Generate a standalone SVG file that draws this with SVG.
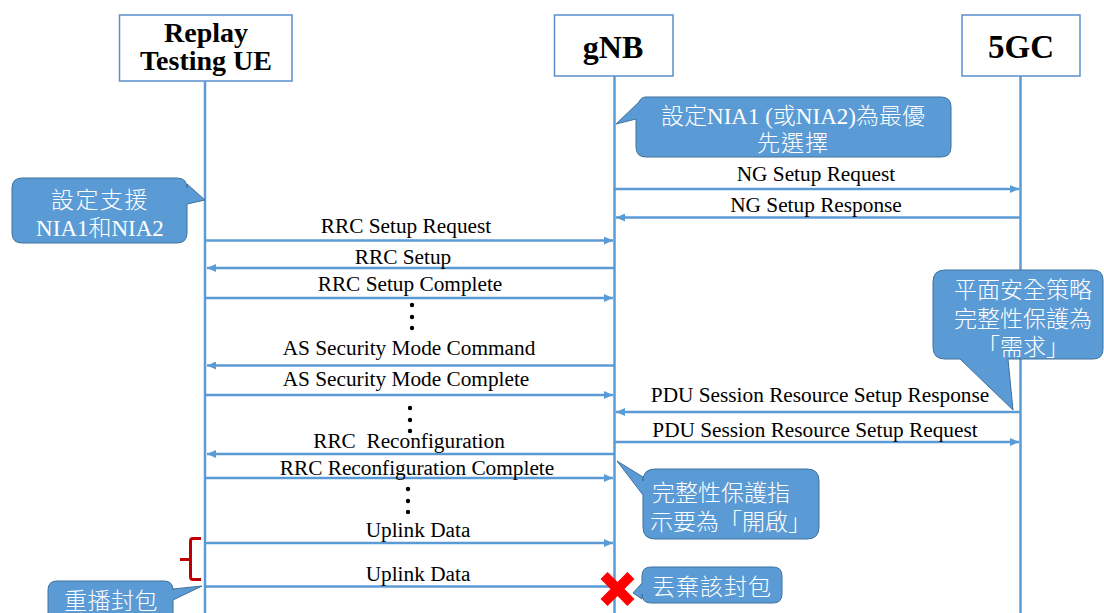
<svg xmlns="http://www.w3.org/2000/svg" width="1104" height="613" viewBox="0 0 1104 613">
<style>
.hdr{fill:#fff;stroke:#5B8FCB;stroke-width:1.5}
.ht{font-family:"Liberation Serif",serif;font-weight:bold;fill:#000;text-anchor:middle}
.life{stroke:#5B9BD5;stroke-width:2.5;fill:none}
.msg{stroke:#5B9BD5;stroke-width:2.5;fill:none}
.lbl{font-family:"Liberation Serif",serif;font-size:21.3px;fill:#000;text-anchor:middle}
.call{fill:#5B9BD5;stroke:#41719C;stroke-width:1}
.ct{font-family:"Liberation Serif","Noto Sans CJK TC",serif;font-size:23px;font-weight:300;fill:#fff;text-anchor:middle}
.dot{fill:#000}
</style>
<defs>
<marker id="ah" markerUnits="userSpaceOnUse" markerWidth="9" markerHeight="8" refX="9" refY="4" orient="auto">
<path d="M0,0 L9,4 L0,8 z" fill="#5B9BD5"/>
</marker>
</defs>

<g id="ue">
<rect class="hdr" x="119.5" y="15" width="172.5" height="66"/>
<text class="ht" x="206" y="42" font-size="28">Replay</text>
<text class="ht" x="206" y="70" font-size="28">Testing UE</text>
</g>
<g id="gnb">
<rect class="hdr" x="554.5" y="15" width="118.5" height="61"/>
<text class="ht" x="613" y="58" font-size="32">gNB</text>
</g>
<g id="core">
<rect class="hdr" x="962" y="15" width="118" height="61"/>
<text class="ht" x="1021" y="58" font-size="33">5GC</text>
</g>

<g id="lifelines">
<line class="life" x1="205" y1="81" x2="205" y2="613"/>
<line class="life" x1="614.5" y1="76" x2="614.5" y2="613"/>
<line class="life" x1="1020.5" y1="76" x2="1020.5" y2="613"/>
</g>

<g id="connectors">
<line class="msg" x1="615" y1="189" x2="1019" y2="189" marker-end="url(#ah)"/>
<line class="msg" x1="1020" y1="217.5" x2="616" y2="217.5" marker-end="url(#ah)"/>
<line class="msg" x1="206" y1="240.5" x2="613" y2="240.5" marker-end="url(#ah)"/>
<line class="msg" x1="614" y1="268" x2="207" y2="268" marker-end="url(#ah)"/>
<line class="msg" x1="206" y1="298" x2="613" y2="298" marker-end="url(#ah)"/>
<line class="msg" x1="614" y1="365.5" x2="207" y2="365.5" marker-end="url(#ah)"/>
<line class="msg" x1="206" y1="395" x2="613" y2="395" marker-end="url(#ah)"/>
<line class="msg" x1="1020" y1="412" x2="616" y2="412" marker-end="url(#ah)"/>
<line class="msg" x1="615" y1="442" x2="1019" y2="442" marker-end="url(#ah)"/>
<line class="msg" x1="614" y1="454" x2="207" y2="454" marker-end="url(#ah)"/>
<line class="msg" x1="206" y1="478" x2="613" y2="478" marker-end="url(#ah)"/>
<line class="msg" x1="206" y1="543" x2="613" y2="543" marker-end="url(#ah)"/>
<line class="msg" x1="206" y1="586.5" x2="612" y2="586.5"/>
</g>

<g id="labels">
<text class="lbl" x="816" y="181">NG Setup Request</text>
<text class="lbl" x="816" y="212">NG Setup Response</text>
<text class="lbl" x="406" y="233">RRC Setup Request</text>
<text class="lbl" x="403" y="264">RRC Setup</text>
<text class="lbl" x="410" y="291">RRC Setup Complete</text>
<text class="lbl" x="409" y="355">AS Security Mode Command</text>
<text class="lbl" x="406" y="386">AS Security Mode Complete</text>
<text class="lbl" x="820" y="402">PDU Session Resource Setup Response</text>
<text class="lbl" x="815" y="437">PDU Session Resource Setup Request</text>
<text class="lbl" x="409" y="448" xml:space="preserve">RRC  Reconfiguration</text>
<text class="lbl" x="417" y="475">RRC Reconfiguration Complete</text>
<text class="lbl" x="418" y="537">Uplink Data</text>
<text class="lbl" x="418" y="581">Uplink Data</text>
</g>

<g id="dots">
<circle class="dot" cx="412" cy="305" r="2.2"/>
<circle class="dot" cx="412" cy="317" r="2.2"/>
<circle class="dot" cx="412" cy="328" r="2.2"/>
<circle class="dot" cx="410" cy="408" r="2.2"/>
<circle class="dot" cx="410" cy="420" r="2.2"/>
<circle class="dot" cx="410" cy="431" r="2.2"/>
<circle class="dot" cx="408" cy="489" r="2.2"/>
<circle class="dot" cx="408" cy="501" r="2.2"/>
<circle class="dot" cx="408" cy="512" r="2.2"/>
</g>

<g id="callout-ue">
<path class="call" d="M22,178 H177 Q187,178 187,188 V184 L205,200 L187,204 V233 Q187,243 177,243 H22 Q12,243 12,233 V188 Q12,178 22,178 Z"/>
<text class="ct" x="100" y="208" letter-spacing="1.5">設定支援</text>
<text class="ct" x="100" y="236">NIA1和NIA2</text>
</g>

<g id="callout-gnb-pref">
<path class="call" d="M646,97 H941 Q951,97 951,107 V147 Q951,157 941,157 H646 Q636,157 636,147 V119 L616,124 L639,102 Q641,97 646,97 Z"/>
<text class="ct" x="793" y="124" font-size="23.5">設定NIA1 (或NIA2)為最優</text>
<text class="ct" x="793" y="151" letter-spacing="1">先選擇</text>
</g>

<g id="callout-policy">
<path class="call" d="M945,270 H1093 Q1103,270 1103,280 V349 Q1103,359 1093,359 H1008 L1013,410 L960,359 H945 Q933,359 933,347 V282 Q933,270 945,270 Z"/>
<text class="ct" x="1023" y="298">平面安全策略</text>
<text class="ct" x="1023" y="327">完整性保護為</text>
<text class="ct" x="1023" y="355">「需求」</text>
</g>

<g id="callout-integrity">
<path class="call" d="M655,469 H807 Q819,469 819,481 V527 Q819,539 807,539 H655 Q643,539 643,527 V495 L617,461 L643,477 V481 Q643,469 655,469 Z"/>
<text class="ct" x="652" y="501" style="text-anchor:start">完整性保護指</text>
<text class="ct" x="650" y="530" style="text-anchor:start">示要為「開啟」</text>
</g>

<g id="callout-drop">
<path class="call" d="M651,567 H773 Q782,567 782,576 V594 Q782,603 773,603 H651 Q642,603 642,594 V599 L633,593 L642,583 V576 Q642,567 651,567 Z"/>
<text class="ct" x="712" y="595" letter-spacing="1">丟棄該封包</text>
</g>

<g id="callout-replay">
<path class="call" d="M57,581 H164 Q173,581 173,590 V589 L202,586 L173,600 V625 H48 V590 Q48,581 57,581 Z"/>
<text class="ct" x="111" y="609" letter-spacing="0.5">重播封包</text>
</g>

<g id="brace">
<path d="M201,538.5 H193 Q190.5,538.5 190.5,541 V577 Q190.5,579.5 193,579.5 H201 M190.5,559.5 H180" fill="none" stroke="#C00000" stroke-width="3"/>
</g>

<g id="drop-mark" transform="translate(617.5,589)">
<rect x="-19" y="-5" width="38" height="10" fill="#FF0000" transform="rotate(45)"/>
<rect x="-19" y="-5" width="38" height="10" fill="#FF0000" transform="rotate(-45)"/>
</g>
</svg>
